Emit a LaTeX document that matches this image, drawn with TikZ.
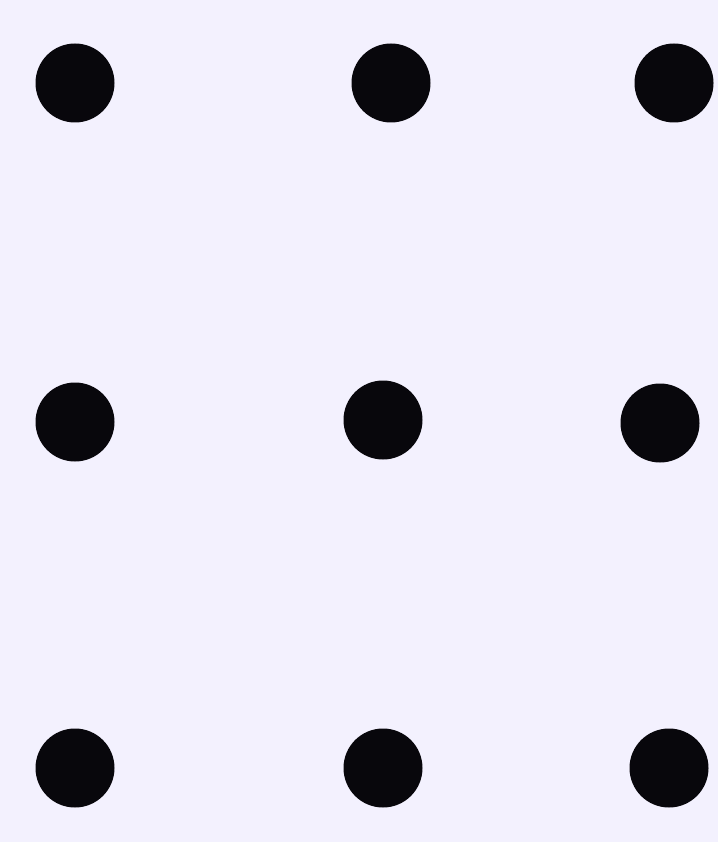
\documentclass[tikz,border=0pt]{standalone}
\definecolor{bgc}{HTML}{F3F1FE}
\definecolor{dotc}{HTML}{08070C}
\begin{document}
\begin{tikzpicture}[x=1pt,y=-1pt,
  dotnode/.style={circle,fill=dotc,draw=none,minimum size=79pt,inner sep=0pt}]
\fill[bgc] (0,0) rectangle (718,842);
\useasboundingbox (0,0) rectangle (718,842);
\node[dotnode] (a1) at (75,83) {};
\node[dotnode] (a2) at (391,83) {};
\node[dotnode] (a3) at (674,83) {};
\node[dotnode] (b1) at (75,422) {};
\node[dotnode] (b2) at (383,420) {};
\node[dotnode] (b3) at (660,423) {};
\node[dotnode] (c1) at (75,768) {};
\node[dotnode] (c2) at (383,768) {};
\node[dotnode] (c3) at (669,768) {};
\end{tikzpicture}
\end{document}
